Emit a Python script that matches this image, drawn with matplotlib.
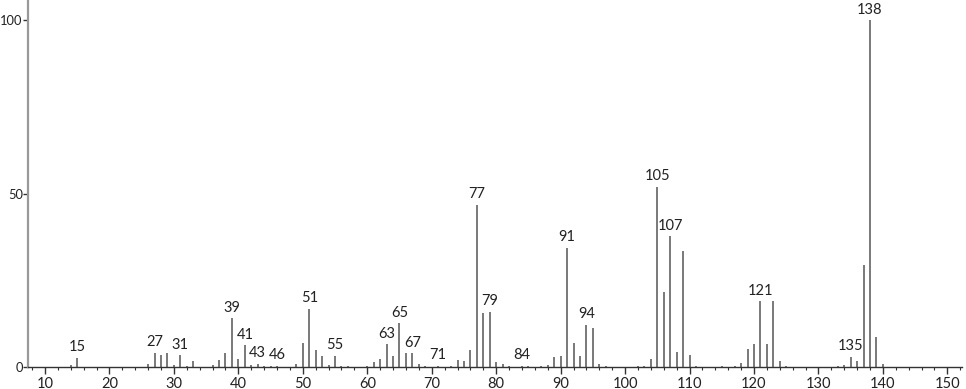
import matplotlib
matplotlib.use("Agg")
import matplotlib.pyplot as plt
from matplotlib.ticker import MultipleLocator

# m/z values and relative intensities (%)
mz = [14, 15, 26, 27, 28, 29, 30, 31, 32, 33, 36, 37, 38, 39, 40, 41, 42, 43, 44, 45,
      46, 49, 50, 51, 52, 53, 54, 55, 56, 57, 60, 61, 62, 63, 64, 65, 66, 67, 68, 69,
      71, 73, 74, 75, 76, 77, 78, 79, 80, 81, 82, 84, 85, 87, 88, 89, 90, 91, 92, 93,
      94, 95, 96, 97, 102, 103, 104, 105, 106, 107, 108, 109, 110, 111, 115, 117, 118,
      119, 120, 121, 122, 123, 124, 125, 133, 134, 135, 136, 137, 138, 139, 140]
intensity = [0.5, 2.7, 1.0, 4.1, 3.4, 4.1, 0.5, 3.4, 0.4, 1.8, 0.5, 1.9, 3.9, 14.0, 2.4, 6.3, 0.5, 1.0, 0.3, 0.3,
             0.3, 1.0, 7.0, 16.8, 5.0, 3.1, 0.5, 3.3, 0.3, 0.3, 0.4, 1.4, 2.4, 6.5, 3.3, 12.7, 4.0, 4.0, 0.9, 0.3,
             0.3, 0.3, 2.0, 1.8, 4.9, 46.8, 15.6, 16.0, 1.4, 1.0, 0.3, 0.3, 0.3, 0.3, 0.5, 2.8, 3.3, 34.4, 6.8, 3.3,
             12.2, 11.3, 1.0, 0.3, 0.4, 0.4, 2.2, 52.0, 21.6, 37.8, 4.2, 33.6, 3.4, 0.3, 0.3, 0.3, 1.2,
             5.3, 6.5, 18.9, 6.5, 19.1, 1.7, 0.3, 0.3, 0.5, 2.9, 1.7, 29.4, 100.0, 8.7, 0.9]

labelled = [15, 27, 31, 39, 41, 43, 46, 51, 55, 63, 65, 67, 71, 77, 79, 84, 91, 94,
            105, 107, 121, 135, 138]

font = ["Lato", "DejaVu Sans"]

fig = plt.figure(figsize=(9.66, 3.89), dpi=100)
ax = fig.add_axes([0.029, 0.0566, 0.967, 0.9434])

ax.vlines(mz, 0, intensity, colors="#6e6e6e", linewidth=1.3)

for m, h in zip(mz, intensity):
    if m in labelled:
        ax.annotate(str(m), (m, h), xytext=(0, 2.5), textcoords="offset points",
                    ha="center", va="bottom", fontsize=10.5, family=font,
                    color="#222222")

ax.set_xlim(7.36, 152.3)
ax.set_ylim(0, 105.9)
ax.xaxis.set_major_locator(MultipleLocator(10))
ax.xaxis.set_minor_locator(MultipleLocator(2))
ax.set_yticks([0, 50, 100])

ax.spines["top"].set_visible(False)
ax.spines["right"].set_visible(False)
ax.spines["left"].set_color("#999999")
ax.spines["left"].set_linewidth(1.6)
ax.spines["bottom"].set_color("#333333")
ax.spines["bottom"].set_linewidth(1.0)

ax.tick_params(axis="x", which="major", length=5, width=1, color="#333333", pad=2)
ax.tick_params(axis="x", which="minor", length=2.5, width=0.8, color="#333333")
ax.tick_params(axis="y", length=3.5, width=1, color="#333333", pad=0.3)
for lab in ax.get_xticklabels() + ax.get_yticklabels():
    lab.set_family(font)
    lab.set_fontsize(10.5)
    lab.set_color("#222222")
for lab in ax.get_yticklabels():
    lab.set_fontsize(9.3)

fig.savefig("out.png", dpi=100)
